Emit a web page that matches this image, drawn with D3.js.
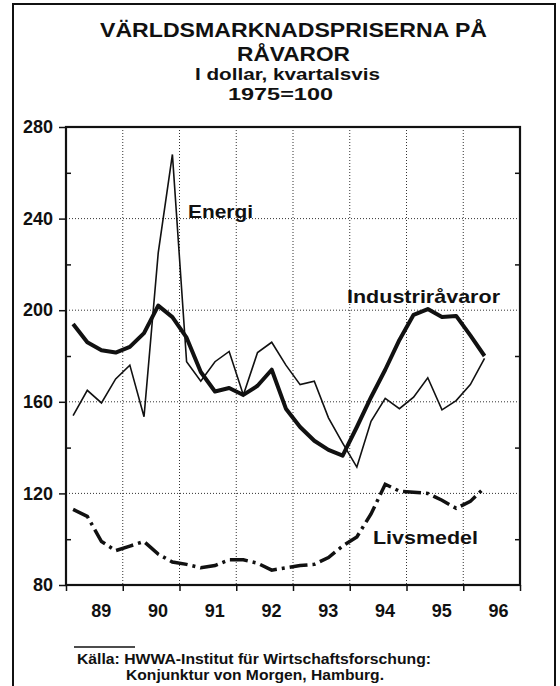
<!DOCTYPE html>
<html>
<head>
<meta charset="utf-8">
<title>Världsmarknadspriserna på råvaror</title>
<style>
body { margin: 0; background: #fff; }
text { font-family: "Liberation Sans", Arial, Helvetica, sans-serif; font-weight: bold; fill: #111; }
</style>
</head>
<body>
<svg width="560" height="686"></svg>
<script src="https://d3js.org/d3.v7.min.js"></script>
<script>
// kvartal, 1989:1 - 1996:2
var quarters = ["89:1","89:2","89:3","89:4","90:1","90:2","90:3","90:4",
                "91:1","91:2","91:3","91:4","92:1","92:2","92:3","92:4",
                "93:1","93:2","93:3","93:4","94:1","94:2","94:3","94:4",
                "95:1","95:2","95:3","95:4","96:1","96:2"];

var energi = [154, 165, 159.5, 170, 176, 153.5, 225, 268,
              177.5, 169, 177.5, 182, 163, 181.5, 186, 176,
              167.5, 169, 153, 142, 131.5, 151.5, 161.5, 157,
              162, 170.5, 156.5, 160.5, 167.5, 179];

var industri = [194, 186, 182.5, 181.5, 184, 190, 202, 197,
                188, 173, 164.5, 166, 163, 167, 174, 157,
                149, 143, 139, 136.5, 149, 162, 174, 187,
                198, 200.5, 197, 197.5, 189, 180];

var livsmedel = [113, 110, 99, 95, 97, 99, 93.5, 90,
                 89, 87.5, 88.5, 91, 91, 89.5, 86.5, 87.5,
                 88.5, 89, 92, 97, 101, 111, 124, 121,
                 120.5, 120, 117, 113.5, 116.5, 122.5];

var years = ["89","90","91","92","93","94","95","96"];
var yTicks = [80, 120, 160, 200, 240, 280];
var yMinor = [100, 140, 180, 220, 260];
var yGrid = [120, 160, 200, 240];

var svg = d3.select("svg");

var x = d3.scaleLinear().domain([1989, 1997]).range([66, 520]);
var y = d3.scaleLinear().domain([80, 280]).range([585, 127]);

function qx(q) {
  var p = q.split(":");
  return x(1900 + +p[0] + (+p[1] - 0.5) / 4);
}

// outer frame
svg.append("rect")
    .attr("x", 13).attr("y", 4)
    .attr("width", 542).attr("height", 700)
    .attr("fill", "none")
    .attr("stroke", "#111")
    .attr("stroke-width", 2);

// titles
function label(t, cx, by, size, len) {
  svg.append("text")
      .attr("x", cx).attr("y", by)
      .attr("text-anchor", "middle")
      .attr("font-size", size)
      .attr("textLength", len)
      .attr("lengthAdjust", "spacingAndGlyphs")
      .text(t);
}
label("VÄRLDSMARKNADSPRISERNA PÅ", 293.5, 36.5, 21, 387);
label("RÅVAROR", 293.5, 60.5, 21, 113);
label("I dollar, kvartalsvis", 287.5, 80, 16, 185);
label("1975=100", 280.5, 100, 17, 105);

// grid
var yearEdges = d3.range(1990, 1997);
svg.append("g").selectAll("line")
  .data(yearEdges)
  .enter().append("line")
    .attr("x1", function(d) { return x(d); })
    .attr("x2", function(d) { return x(d); })
    .attr("y1", y(280)).attr("y2", y(80))
    .attr("stroke", "#333")
    .attr("stroke-width", 1)
    .attr("stroke-dasharray", "1,2");

svg.append("g").selectAll("line")
  .data(yGrid)
  .enter().append("line")
    .attr("x1", x(1989)).attr("x2", x(1997))
    .attr("y1", function(d) { return y(d); })
    .attr("y2", function(d) { return y(d); })
    .attr("stroke", "#333")
    .attr("stroke-width", 1)
    .attr("stroke-dasharray", "1,2");

// axes
var left = svg.append("g").attr("transform", "translate(" + x(1989) + ",0)");
left.call(d3.axisLeft(y).tickValues(yTicks).tickSize(7).tickPadding(6))
  .call(function(g) { g.select(".domain").remove(); });
left.selectAll("text")
    .attr("font-size", 18)
    .attr("fill", "#111")
    .style("font-family", "'Liberation Sans', Arial, sans-serif");
left.selectAll("line").attr("stroke", "#111").attr("stroke-width", 1.5);

var leftMinor = svg.append("g").attr("transform", "translate(" + x(1989) + ",0)");
leftMinor.call(d3.axisRight(y).tickValues(yMinor).tickSize(5).tickFormat(""))
  .call(function(g) { g.select(".domain").remove(); });
leftMinor.selectAll("line").attr("stroke", "#111").attr("stroke-width", 1.5);

var rightMinor = svg.append("g").attr("transform", "translate(" + x(1997) + ",0)");
rightMinor.call(d3.axisLeft(y).tickValues(yMinor).tickSize(5).tickFormat(""))
  .call(function(g) { g.select(".domain").remove(); });
rightMinor.selectAll("line").attr("stroke", "#111").attr("stroke-width", 1.5);

var bottom = svg.append("g").attr("transform", "translate(0," + y(80) + ")");
bottom.call(d3.axisBottom(x).tickValues(d3.range(1989, 1998)).tickSize(6).tickFormat(""))
  .call(function(g) { g.select(".domain").remove(); });
bottom.selectAll("line").attr("stroke", "#111").attr("stroke-width", 1.5);

svg.append("g").selectAll("text")
  .data(years)
  .enter().append("text")
    .attr("x", function(d) { return x(1900 + +d + 0.5) + 7; })
    .attr("y", 617)
    .attr("text-anchor", "middle")
    .attr("font-size", 18)
    .text(function(d) { return d; });

// plot box
svg.append("rect")
    .attr("x", x(1989)).attr("y", y(280))
    .attr("width", x(1997) - x(1989)).attr("height", y(80) - y(280))
    .attr("fill", "none")
    .attr("stroke", "#111")
    .attr("stroke-width", 2.2);

// lines
var line = d3.line()
    .x(function(d, i) { return qx(quarters[i]); })
    .y(function(d) { return y(d); });

svg.append("path")
    .datum(energi)
    .attr("fill", "none")
    .attr("stroke", "#111")
    .attr("stroke-width", 1.6)
    .attr("stroke-linejoin", "miter")
    .attr("d", line);

svg.append("path")
    .datum(industri)
    .attr("fill", "none")
    .attr("stroke", "#111")
    .attr("stroke-width", 4)
    .attr("stroke-linejoin", "round")
    .attr("d", line);

svg.append("path")
    .datum(livsmedel)
    .attr("fill", "none")
    .attr("stroke", "#111")
    .attr("stroke-width", 3.5)
    .attr("stroke-dasharray", "18,5,3,5")
    .attr("d", line);

// series labels
function seriesLabel(t, lx, by, len) {
  svg.append("text")
      .attr("x", lx).attr("y", by)
      .attr("font-size", 19)
      .attr("textLength", len)
      .attr("lengthAdjust", "spacingAndGlyphs")
      .text(t);
}
seriesLabel("Energi", 188, 218, 65);
seriesLabel("Industriråvaror", 347, 303, 153);
seriesLabel("Livsmedel", 373, 544, 105);

// source
svg.append("line")
    .attr("x1", 74).attr("x2", 135)
    .attr("y1", 647).attr("y2", 647)
    .attr("stroke", "#111")
    .attr("stroke-width", 1.5);

svg.append("text")
    .attr("x", 77).attr("y", 664)
    .attr("font-size", 15)
    .attr("textLength", 354)
    .attr("lengthAdjust", "spacingAndGlyphs")
    .text("Källa: HWWA-Institut für Wirtschaftsforschung:");

svg.append("text")
    .attr("x", 126).attr("y", 680)
    .attr("font-size", 15)
    .attr("textLength", 258)
    .attr("lengthAdjust", "spacingAndGlyphs")
    .text("Konjunktur von Morgen, Hamburg.");
</script>
</body>
</html>
